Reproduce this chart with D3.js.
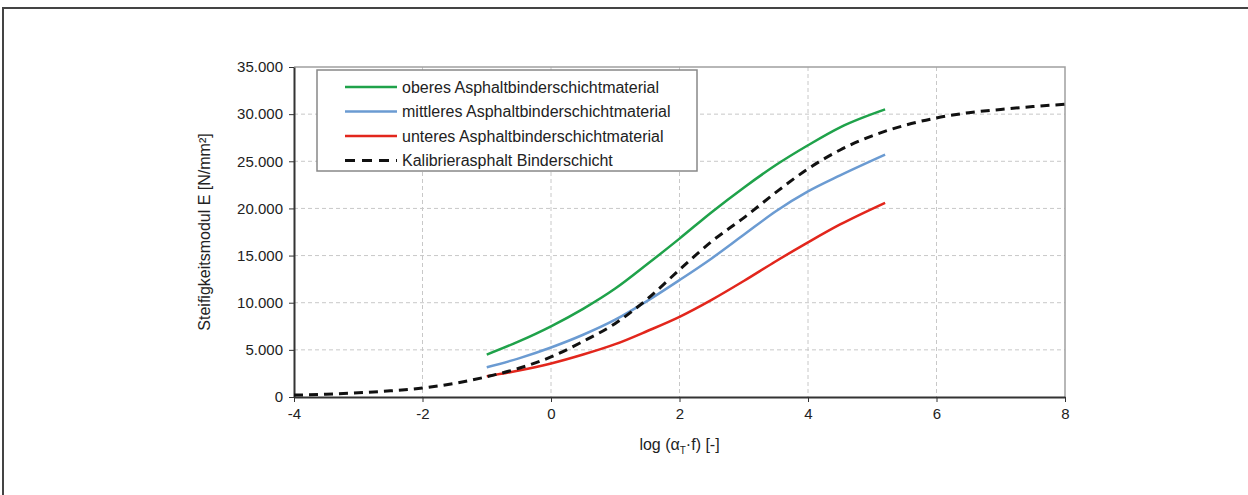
<!DOCTYPE html>
<html>
<head>
<meta charset="utf-8">
<script src="https://cdn.jsdelivr.net/npm/d3@7"></script>
<style>
  body { margin: 0; background: #fff; }
  svg text { font-family: "Liberation Sans", Arial, sans-serif; fill: #222; }
  .grid line { stroke: #c8c8c8; stroke-dasharray: 4,3; }
</style>
</head>
<body>
<script>
// log(aT*f) values and stiffness modulus E [N/mm2]
var xMat = [-1, -0.5, 0, 0.5, 1, 1.5, 2, 2.5, 3, 3.5, 4, 4.5, 5.2];
var eOben = [4500, 5900, 7500, 9350, 11500, 14100, 16800, 19600, 22200, 24600, 26700, 28600, 30500];
var eMitte = [3150, 4100, 5250, 6600, 8200, 10200, 12400, 14700, 17200, 19700, 21800, 23500, 25700];
var eUnten = [2200, 2800, 3550, 4500, 5600, 7000, 8500, 10300, 12300, 14400, 16400, 18300, 20600];

var xKal = [-4, -3.5, -3, -2.5, -2, -1.5, -1, -0.5, 0, 0.5, 1, 1.5, 2, 2.5, 3, 3.5, 4, 4.5, 5, 5.5, 6, 6.5, 7, 7.5, 8];
var eKal = [200, 300, 450, 650, 950, 1450, 2150, 3050, 4250, 5900, 7800, 10400, 13500, 16500, 19000, 21700, 24200, 26200, 27700, 28800, 29600, 30150, 30500, 30800, 31050];

var xTicks = [-4, -2, 0, 2, 4, 6, 8];
var yTicks = [0, 5000, 10000, 15000, 20000, 25000, 30000, 35000];

var seriesNames = ["oberes Asphaltbinderschichtmaterial", "mittleres Asphaltbinderschichtmaterial",
  "unteres Asphaltbinderschichtmaterial", "Kalibrierasphalt Binderschicht"];

var W = 1248, H = 495;
var margin = {top: 67, right: 183, bottom: 98, left: 294};
var width = W - margin.left - margin.right,
    height = H - margin.top - margin.bottom;

var de = d3.formatLocale({decimal: ",", thousands: ".", grouping: [3], currency: ["", " €"], minus: "-"});
var fmt = de.format(",.0f");
var fmtX = de.format("d");

var svg = d3.select("body").append("svg")
    .attr("width", W)
    .attr("height", H);

// outer frame (top + left only visible)
svg.append("path")
    .attr("d", "M3," + H + "V8H" + W)
    .attr("fill", "none")
    .attr("stroke", "#444")
    .attr("stroke-width", 2);

var g = svg.append("g")
    .attr("transform", "translate(" + margin.left + "," + margin.top + ")");

var x = d3.scaleLinear().domain([-4, 8]).range([0, width]);
var y = d3.scaleLinear().domain([0, 35000]).range([height, 0]);

// grid
var grid = g.append("g").attr("class", "grid");
grid.selectAll(".vx").data(xTicks.slice(1, -1)).enter().append("line")
    .attr("x1", function(d) { return x(d); }).attr("x2", function(d) { return x(d); })
    .attr("y1", 0).attr("y2", height);
grid.selectAll(".hy").data(yTicks.slice(1, -1)).enter().append("line")
    .attr("x1", 0).attr("x2", width)
    .attr("y1", function(d) { return y(d); }).attr("y2", function(d) { return y(d); });

// top and right border
g.append("path")
    .attr("d", "M0,0H" + width + "V" + height)
    .attr("fill", "none")
    .attr("stroke", "#a0a0a0")
    .attr("stroke-width", 1.5);

// axes
var xAxis = g.append("g")
    .attr("transform", "translate(0," + height + ")")
    .call(d3.axisBottom(x).tickValues(xTicks).tickFormat(fmtX).tickSize(5).tickSizeOuter(0).tickPadding(6));
var yAxis = g.append("g")
    .call(d3.axisLeft(y).tickValues(yTicks).tickFormat(fmt).tickSize(5).tickSizeOuter(0).tickPadding(6));

[xAxis, yAxis].forEach(function(a) {
  a.select(".domain").attr("stroke", "#333").attr("stroke-width", 2);
  a.selectAll(".tick line").attr("stroke", "#333");
  a.selectAll(".tick text").attr("font-size", 15).attr("fill", "#222")
    .attr("font-family", "Liberation Sans, Arial, sans-serif");
});

// axis titles
var xt = svg.append("text")
    .attr("x", margin.left + width / 2)
    .attr("y", 450)
    .attr("text-anchor", "middle")
    .attr("font-size", 16);
xt.append("tspan").text("log (α");
xt.append("tspan").attr("font-size", 10).attr("dy", 4).text("T");
xt.append("tspan").attr("dy", -4).text("·f) [-]");

svg.append("text")
    .attr("transform", "translate(210," + (margin.top + height / 2) + ") rotate(-90)")
    .attr("text-anchor", "middle")
    .attr("font-size", 16)
    .text("Steifigkeitsmodul E [N/mm²]");

// curves
var line = d3.line()
    .curve(d3.curveMonotoneX)
    .x(function(d) { return x(d[0]); })
    .y(function(d) { return y(d[1]); });

var series = [
  {xs: xMat, ys: eOben, color: "#1fa24a", dash: null, w: 2.5},
  {xs: xMat, ys: eMitte, color: "#6b9bd2", dash: null, w: 2.5},
  {xs: xMat, ys: eUnten, color: "#e2261c", dash: null, w: 2.5},
  {xs: xKal, ys: eKal, color: "#111", dash: "9,6", w: 3}
];

series.forEach(function(s) {
  g.append("path")
      .datum(d3.zip(s.xs, s.ys))
      .attr("fill", "none")
      .attr("stroke", s.color)
      .attr("stroke-width", s.w)
      .attr("stroke-dasharray", s.dash)
      .attr("d", line);
});

// legend
var leg = svg.append("g").attr("transform", "translate(317,70)");
leg.append("rect")
    .attr("width", 380).attr("height", 101)
    .attr("fill", "#fff")
    .attr("stroke", "#888")
    .attr("stroke-width", 1.5);
series.forEach(function(s, i) {
  var yy = 17 + i * 24.5;
  leg.append("line")
      .attr("x1", 28).attr("x2", 80)
      .attr("y1", yy).attr("y2", yy)
      .attr("stroke", s.color)
      .attr("stroke-width", s.w)
      .attr("stroke-dasharray", s.dash ? "10,7" : null);
  leg.append("text")
      .attr("x", 85).attr("y", yy + 5.5)
      .attr("font-size", 16)
      .text(seriesNames[i]);
});
</script>
</body>
</html>
